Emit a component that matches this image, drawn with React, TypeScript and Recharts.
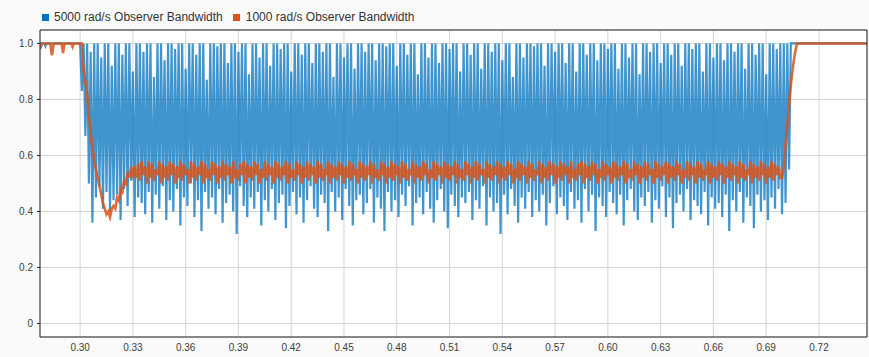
import React from "react";
import { LineChart, Line, XAxis, YAxis, CartesianGrid, ReferenceLine } from "recharts";

// ---- data ----
const X_TICKS = [0.3, 0.33, 0.36, 0.39, 0.42, 0.45, 0.48, 0.51, 0.54, 0.57, 0.6, 0.63, 0.66, 0.69, 0.72];
const Y_TICKS = [0, 0.2, 0.4, 0.6, 0.8, 1.0];
const X_DOMAIN = [0.2772, 0.7473];
const Y_DOMAIN = [-0.048, 1.048];

const SERIES_NAMES = ["5000 rad/s Observer Bandwidth", "1000 rad/s Observer Bandwidth"];

// 5000 rad/s series
const bluePreT = [0.2772, 0.2797, 0.2803, 0.2809];
const bluePreV = [1, 1, 0.99, 1];
const BLUE_T0 = 0.3;
const BLUE_DT = 0.001;
const blueWave = [
  1, 0.83, 1, 0.67, 1, 0.50, 0.97, 0.36, 1, 0.45, 1, 0.49, 0.95, 0.41, 1, 0.47, 1, 0.40, 0.92, 0.44,
  1, 0.46, 1, 0.37, 0.96, 0.48, 1, 0.42, 1, 0.51, 0.90, 0.38, 1, 0.45, 1, 0.43, 0.97, 0.39, 1, 0.47,
  1, 0.36, 0.88, 0.46, 1, 0.41, 1, 0.49, 0.94, 0.37, 1, 0.44, 1, 0.40, 0.98, 0.48, 1, 0.35, 1, 0.45,
  0.91, 0.42, 1, 0.50, 1, 0.38, 0.96, 0.44, 1, 0.33, 1, 0.47, 0.87, 0.41, 1, 0.45, 1, 0.39, 0.99, 0.48,
  1, 0.36, 1, 0.43, 0.93, 0.46, 1, 0.40, 1, 0.32, 0.97, 0.49, 1, 0.42, 1, 0.38, 0.89, 0.45, 1, 0.41,
  1, 0.47, 0.95, 0.35, 1, 0.44, 1, 0.40, 0.92, 0.48, 1, 0.37, 1, 0.43, 0.98, 0.46, 1, 0.34, 1, 0.42,
  0.90, 0.47, 1, 0.39, 1, 0.45, 0.96, 0.36, 1, 0.44, 1, 0.49, 0.93, 0.41, 1, 0.38, 1, 0.46, 0.97, 0.43,
  1, 0.33, 1, 0.47, 0.88, 0.40, 1, 0.45, 1, 0.37, 0.95, 0.48, 1, 0.42, 1, 0.35, 0.91, 0.44, 1, 0.46,
  1, 0.39, 0.97, 0.43, 1, 0.48, 1, 0.36, 0.94, 0.45, 1, 0.41, 1, 0.33, 0.99, 0.47, 1, 0.40, 1, 0.44,
  0.92, 0.38, 1, 0.46, 1, 0.42, 0.96, 0.49, 1, 0.35, 1, 0.43, 0.89, 0.45, 1, 0.39, 1, 0.47, 0.95, 0.41,
  1, 0.36, 1, 0.44, 0.93, 0.48, 1, 0.40, 1, 0.34, 0.98, 0.46, 1, 0.42, 1, 0.38, 0.90, 0.45, 1, 0.43,
  1, 0.47, 0.96, 0.37, 1, 0.44, 1, 0.41, 0.91, 0.49, 1, 0.35, 1, 0.45, 0.97, 0.40, 1, 0.43, 1, 0.32,
  0.94, 0.46, 1, 0.39, 1, 0.48, 0.88, 0.42, 1, 0.36, 1, 0.45, 0.95, 0.41, 1, 0.47, 1, 0.38, 0.99, 0.44,
  1, 0.40, 1, 0.46, 0.92, 0.35, 1, 0.43, 1, 0.49, 0.97, 0.39, 1, 0.45, 1, 0.42, 0.93, 0.37, 1, 0.47,
  1, 0.41, 0.90, 0.44, 1, 0.36, 1, 0.48, 0.96, 0.40, 1, 0.46, 1, 0.33, 0.94, 0.45, 1, 0.42, 1, 0.38,
  0.98, 0.47, 1, 0.43, 1, 0.39, 0.91, 0.46, 1, 0.35, 1, 0.44, 0.95, 0.48, 1, 0.40, 1, 0.37, 0.89, 0.45,
  1, 0.42, 1, 0.47, 0.97, 0.36, 1, 0.44, 1, 0.41, 0.93, 0.49, 1, 0.38, 1, 0.45, 0.96, 0.34, 1, 0.43,
  1, 0.46, 0.92, 0.40, 1, 0.48, 1, 0.37, 0.98, 0.44, 1, 0.42, 1, 0.39, 0.90, 0.47, 1, 0.35, 1, 0.45,
  0.95, 0.41, 1, 0.43, 1, 0.38, 0.94, 0.46, 1, 0.33, 1, 0.44, 0.97, 0.40, 1, 0.47, 1, 0.36, 0.91, 0.45,
  1, 0.42, 1, 0.34, 0.96, 0.46, 1, 0.40, 1, 0.44, 0.89, 0.37, 1, 0.45, 1, 0.41, 0.98, 0.48, 1, 0.39,
  1, 0.43, 1, 0.55, 1, 1,
];
const bluePostT = [0.7473];
const bluePostV = [1];

// 1000 rad/s series
const orangeStartT = [
  0.2772, 0.2785, 0.283, 0.284, 0.285, 0.2895, 0.2903, 0.2911, 0.295, 0.2957, 0.2964,
  0.301, 0.302, 0.303, 0.304, 0.305, 0.306, 0.307, 0.308, 0.309, 0.31, 0.311, 0.312, 0.313, 0.314,
  0.315, 0.316, 0.317, 0.318, 0.319, 0.32, 0.321, 0.322, 0.323, 0.324, 0.325, 0.326, 0.327, 0.328,
  0.329, 0.33, 0.331,
];
const orangeStartV = [
  0.98, 1, 1, 0.958, 1, 1, 0.966, 1, 1, 0.988, 1,
  1, 0.9, 0.86, 0.82, 0.74, 0.68, 0.63, 0.58, 0.55, 0.52, 0.49, 0.46, 0.43, 0.41,
  0.39, 0.4, 0.38, 0.41, 0.42, 0.41, 0.45, 0.44, 0.48, 0.47, 0.51, 0.5, 0.54, 0.52,
  0.56, 0.53, 0.55,
];
const ORANGE_T0 = 0.332;
const ORANGE_DT = 0.001;
const orangeBand = [
  0.52, 0.57, 0.51, 0.58, 0.53, 0.56, 0.50, 0.58, 0.52, 0.57, 0.51, 0.55, 0.53, 0.58, 0.50, 0.57, 0.52, 0.56, 0.51, 0.58,
  0.53, 0.57, 0.50, 0.56, 0.52, 0.58, 0.51, 0.57, 0.53, 0.55, 0.50, 0.58, 0.52, 0.57, 0.51, 0.56, 0.53, 0.58, 0.50, 0.57,
  0.52, 0.55, 0.51, 0.58, 0.53, 0.57, 0.50, 0.56, 0.52, 0.58, 0.51, 0.57, 0.53, 0.56, 0.50, 0.58, 0.52, 0.55, 0.51, 0.57,
  0.53, 0.58, 0.50, 0.57, 0.52, 0.56, 0.51, 0.58, 0.53, 0.57, 0.50, 0.55, 0.52, 0.58, 0.51, 0.57, 0.53, 0.56, 0.50, 0.58,
  0.52, 0.57, 0.51, 0.56, 0.53, 0.58, 0.50, 0.57, 0.52, 0.55, 0.51, 0.58, 0.53, 0.57, 0.50, 0.56, 0.52, 0.58, 0.51, 0.57,
  0.53, 0.56, 0.50, 0.58, 0.52, 0.57, 0.51, 0.55, 0.53, 0.58, 0.50, 0.57, 0.52, 0.56, 0.51, 0.58, 0.53, 0.57, 0.50, 0.56,
  0.52, 0.58, 0.51, 0.57, 0.53, 0.55, 0.50, 0.58, 0.52, 0.57, 0.51, 0.56, 0.53, 0.58, 0.50, 0.57, 0.52, 0.55, 0.51, 0.58,
  0.53, 0.57, 0.50, 0.56, 0.52, 0.58, 0.51, 0.57, 0.53, 0.56, 0.50, 0.58, 0.52, 0.57, 0.51, 0.55, 0.53, 0.58, 0.50, 0.57,
  0.52, 0.56, 0.51, 0.58, 0.53, 0.57, 0.50, 0.55, 0.52, 0.58, 0.51, 0.57, 0.53, 0.56, 0.50, 0.58, 0.52, 0.57, 0.51, 0.56,
  0.53, 0.58, 0.50, 0.57, 0.52, 0.55, 0.51, 0.58, 0.53, 0.57, 0.50, 0.56, 0.52, 0.58, 0.51, 0.57, 0.53, 0.55, 0.50, 0.58,
  0.52, 0.57, 0.51, 0.56, 0.53, 0.58, 0.50, 0.57, 0.52, 0.56, 0.51, 0.58, 0.53, 0.57, 0.50, 0.55, 0.52, 0.58, 0.51, 0.57,
  0.53, 0.56, 0.50, 0.58, 0.52, 0.57, 0.51, 0.55, 0.53, 0.58, 0.50, 0.57, 0.52, 0.56, 0.51, 0.58, 0.53, 0.57, 0.50, 0.56,
  0.52, 0.58, 0.51, 0.57, 0.53, 0.56, 0.50, 0.58, 0.52, 0.55, 0.51, 0.57, 0.53, 0.58, 0.50, 0.57, 0.52, 0.56, 0.51, 0.58,
  0.53, 0.57, 0.50, 0.55, 0.52, 0.58, 0.51, 0.57, 0.53, 0.56, 0.50, 0.58, 0.52, 0.57, 0.51, 0.56, 0.53, 0.58, 0.50, 0.57,
  0.52, 0.55, 0.51, 0.58, 0.53, 0.57, 0.50, 0.56, 0.52, 0.58, 0.51, 0.57, 0.53, 0.55, 0.50, 0.58, 0.52, 0.57, 0.51, 0.56,
  0.53, 0.58, 0.50, 0.57, 0.52, 0.56, 0.51, 0.58, 0.53, 0.57, 0.50, 0.55, 0.52, 0.58, 0.51, 0.57, 0.53, 0.56, 0.50, 0.58,
  0.52, 0.57, 0.51, 0.55, 0.53, 0.58, 0.50, 0.57, 0.52, 0.56, 0.51, 0.58, 0.53, 0.57, 0.50, 0.56, 0.52, 0.58, 0.51, 0.57,
  0.53, 0.56, 0.50, 0.58, 0.52, 0.57, 0.51, 0.55, 0.53, 0.58, 0.50, 0.57, 0.52, 0.56, 0.51, 0.58, 0.53, 0.57, 0.50, 0.56,
  0.52, 0.58, 0.51, 0.57, 0.53, 0.56, 0.52,
];
const orangeEndT = [0.699, 0.7, 0.7005, 0.7015, 0.7025, 0.7035, 0.7045, 0.7055, 0.7065, 0.7075, 0.7473];
const orangeEndV = [0.52, 0.56, 0.6, 0.67, 0.74, 0.82, 0.88, 0.93, 0.97, 1, 1];

// ---- build series tables ----
const blueData = [
  ...bluePreT.map((t, i) => ({ t, v: bluePreV[i] })),
  ...blueWave.map((v, i) => ({ t: BLUE_T0 + i * BLUE_DT, v })),
  ...bluePostT.map((t, i) => ({ t, v: bluePostV[i] })),
];
const orangeData = [
  ...orangeStartT.map((t, i) => ({ t, v: orangeStartV[i] })),
  ...orangeBand.map((v, i) => ({ t: ORANGE_T0 + i * ORANGE_DT, v })),
  ...orangeEndT.map((t, i) => ({ t, v: orangeEndV[i] })),
];

const BLUE = "#0072BD";
const ORANGE = "#D95319";
const FONT = "'Liberation Sans', Arial, Helvetica, sans-serif";
const FRAME = "#262626";

export default function App() {
  return (
    <div
      style={{
        position: "absolute",
        left: 0,
        top: 0,
        width: 869,
        height: 357,
        background: "#fafafa",
        fontFamily: FONT,
      }}
    >
      <div
        style={{
          position: "absolute",
          left: 42,
          top: 8,
          display: "flex",
          alignItems: "center",
          fontSize: 12,
          color: "#333",
          whiteSpace: "nowrap",
          lineHeight: "18px",
        }}
      >
        <span style={{ display: "inline-block", width: 7, height: 7, background: BLUE, marginRight: 5 }} />
        <span style={{ marginRight: 10 }}>{SERIES_NAMES[0]}</span>
        <span style={{ display: "inline-block", width: 7, height: 7, background: ORANGE, marginRight: 6 }} />
        <span>{SERIES_NAMES[1]}</span>
      </div>
      <LineChart width={869} height={357} margin={{ top: 30, right: 2, bottom: 0, left: 0 }}>
        <CartesianGrid stroke="#d4d4d4" fill="#ffffff" />
        <XAxis
          dataKey="t"
          type="number"
          domain={X_DOMAIN}
          ticks={X_TICKS}
          allowDataOverflow
          tickFormatter={(v: number) => v.toFixed(2)}
          height={20}
          tickSize={0}
          tickMargin={7}
          tickLine={false}
          axisLine={{ stroke: FRAME }}
          tick={{ fontSize: 10, fill: "#404040", fontFamily: FONT }}
        />
        <YAxis
          type="number"
          domain={Y_DOMAIN}
          ticks={Y_TICKS}
          allowDataOverflow
          width={40}
          tickSize={3}
          tickMargin={4}
          tickLine={{ stroke: FRAME }}
          axisLine={{ stroke: FRAME }}
          tickFormatter={(v: number) => (v === 0 ? "0" : v.toFixed(1))}
          tick={{ fontSize: 10, fill: "#404040", fontFamily: FONT }}
        />
        <Line
          data={blueData}
          dataKey="v"
          type="linear"
          stroke={BLUE}
          strokeOpacity={0.75}
          strokeWidth={2.2}
          dot={false}
          isAnimationActive={false}
        />
        <Line
          data={orangeData}
          dataKey="v"
          type="linear"
          stroke={ORANGE}
          strokeOpacity={0.85}
          strokeWidth={2.6}
          dot={false}
          isAnimationActive={false}
        />
        <ReferenceLine y={Y_DOMAIN[1]} stroke={FRAME} ifOverflow="visible" />
        <ReferenceLine x={X_DOMAIN[1]} stroke={FRAME} ifOverflow="visible" />
      </LineChart>
    </div>
  );
}
